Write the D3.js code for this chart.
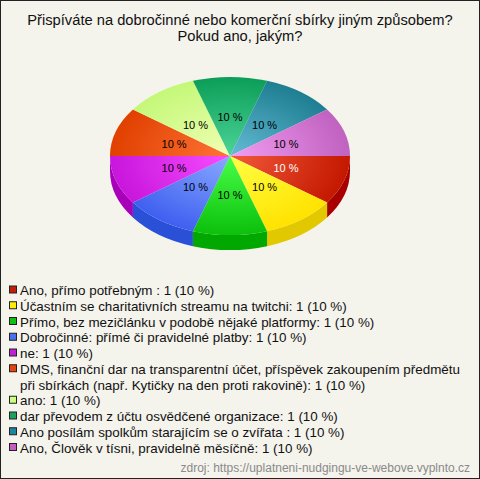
<!DOCTYPE html>
<html>
<head>
<meta charset="utf-8">
<script src="https://cdn.jsdelivr.net/npm/d3@7"></script>
<style>
  body { margin: 0; background: #fff; }
  svg { display: block; font-family: "Liberation Sans", Arial, sans-serif; }
</style>
</head>
<body>
<svg id="chart"></svg>
<script>
// data
var titleLines = ["Přispíváte na dobročinné nebo komerční sbírky jiným způsobem?", "Pokud ano, jakým?"];
var categories = [
  "Ano, přímo potřebným ",
  "Účastním se charitativních streamu na twitchi",
  "Přímo, bez mezičlánku v podobě nějaké platformy",
  "Dobročinné: přímé či pravidelné platby",
  "ne",
  "DMS, finanční dar na transparentní účet, příspěvek zakoupením předmětu|při sbírkách (např. Kytičky na den proti rakovině)",
  "ano",
  "dar převodem z účtu osvědčené organizace",
  "Ano posílám spolkům starajícím se o zvířata ",
  "Ano, Člověk v tísni, pravidelně měsíčně"
];
var counts = [1, 1, 1, 1, 1, 1, 1, 1, 1, 1];
var percents = [10, 10, 10, 10, 10, 10, 10, 10, 10, 10];
var sourceText = "zdroj: https://uplatneni-nudgingu-ve-webove.vyplnto.cz";

// colours
var inner = ["#f25a3c", "#ffff45", "#48ff48", "#88aaff", "#f84cff", "#ff7436", "#f0ffb4", "#4cd498", "#64bcd4", "#f29cf2"];
var outer = ["#c41800", "#ffe200", "#0cc00c", "#3f5ff0", "#c816dc", "#e04000", "#c4f878", "#0c9e58", "#1e7e92", "#c062c0"];
var side  = ["#a80000", "#e2c800", "#00a800", "#2a50d8", "#a800b8", "#c03000", "#a8d860", "#088848", "#186a7c", "#a04ca0"];
var legendCol = ["#c41e0a", "#ffee00", "#12c012", "#4a70f0", "#c41ed8", "#e84410", "#ccff80", "#1ea060", "#1e84a0", "#c060c0"];
var labelCol = ["#fff", "#000", "#000", "#000", "#000", "#000", "#000", "#000", "#000", "#000"];

var W = 480, H = 479;
var svg = d3.select("#chart").attr("width", W).attr("height", H);

svg.append("rect").attr("x", 0.5).attr("y", 0.5).attr("width", W - 1).attr("height", H - 1)
  .attr("fill", "#f4f3ec").attr("stroke", "#222");

svg.append("g").selectAll("text").data(titleLines).enter().append("text")
  .attr("x", W / 2).attr("y", function(d, i) { return 25 + i * 16; })
  .attr("text-anchor", "middle").style("font-size", "14.7px").attr("fill", "#111")
  .text(function(d) { return d; });

var cx = 230, cy = 156, rx = 120, ry = 79, depth = 15;

var pie = d3.pie().sort(null).startAngle(Math.PI / 2).endAngle(Math.PI * 2.5);
var arcs = pie(counts);

var defs = svg.append("defs");
arcs.forEach(function(a, i) {
  var g = defs.append("radialGradient").attr("id", "grad" + i)
    .attr("gradientUnits", "userSpaceOnUse").attr("cx", 0).attr("cy", 0).attr("r", rx);
  g.append("stop").attr("offset", "0%").attr("stop-color", inner[i]);
  g.append("stop").attr("offset", "100%").attr("stop-color", outer[i]);
});

function ex(t) { return cx + rx * Math.sin(t); }
function ey(t) { return cy - ry * Math.cos(t); }

// side walls, only the front half (d3 angles pi/2 .. 3pi/2)
var sides = svg.append("g");
arcs.forEach(function(a, i) {
  var a0 = Math.max(a.startAngle, Math.PI / 2), a1 = Math.min(a.endAngle, Math.PI * 1.5);
  if (a1 <= a0) return;
  var p = "M" + ex(a0) + "," + ey(a0) +
    "A" + rx + "," + ry + " 0 0 1 " + ex(a1) + "," + ey(a1) +
    "L" + ex(a1) + "," + (ey(a1) + depth) +
    "A" + rx + "," + ry + " 0 0 0 " + ex(a0) + "," + (ey(a0) + depth) + "Z";
  sides.append("path").attr("d", p).attr("fill", side[i]);
});

var arc = d3.arc().innerRadius(0).outerRadius(rx);
var topFace = svg.append("g").attr("transform", "translate(" + cx + "," + cy + ") scale(1," + (ry / rx) + ")");
topFace.selectAll("path").data(arcs).enter().append("path")
  .attr("d", arc)
  .attr("fill", function(d, i) { return "url(#grad" + i + ")"; });

var labelArc = d3.arc().innerRadius(0).outerRadius(rx * 0.98);
svg.append("g").selectAll("text").data(arcs).enter().append("text")
  .attr("x", function(d) { return cx + labelArc.centroid(d)[0]; })
  .attr("y", function(d) { return cy + labelArc.centroid(d)[1] * ry / rx + 4; })
  .attr("text-anchor", "middle").style("font-size", "11px")
  .attr("fill", function(d, i) { return labelCol[i]; })
  .text(function(d, i) { return percents[i] + " %"; });

// legend
var lineH = 15.75, ly = 290.5;
var legend = svg.append("g");
var row = 0;
categories.forEach(function(c, i) {
  var lines = c.split("|");
  lines[lines.length - 1] += ": " + counts[i] + " (" + percents[i] + " %)";
  var y = ly + row * lineH;
  legend.append("rect").attr("x", 9.5).attr("y", y - 4.5).attr("width", 7).attr("height", 7)
    .attr("fill", legendCol[i]).attr("stroke", "#222");
  var t = legend.append("text").attr("x", 20).attr("y", y + 4.7).style("font-size", "13.4px").attr("fill", "#111");
  lines.forEach(function(l, j) {
    t.append("tspan").attr("x", 20).attr("dy", j ? lineH : 0).text(l);
  });
  row += lines.length;
});

svg.append("text").attr("x", 470).attr("y", 472).attr("text-anchor", "end")
  .style("font-size", "12px").attr("fill", "#8a8a8a").text(sourceText);
</script>
</body>
</html>
